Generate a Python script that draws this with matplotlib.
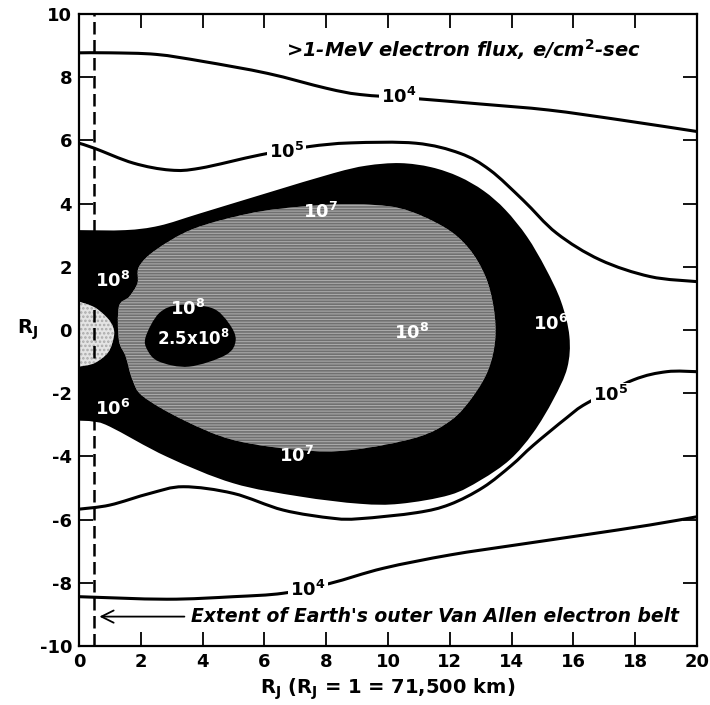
import matplotlib
matplotlib.use("Agg")
import matplotlib.pyplot as plt
from matplotlib.patches import PathPatch
from matplotlib.path import Path

plt.rcParams['font.family'] = ['DejaVu Sans']
plt.rcParams['mathtext.fontset'] = 'custom'
plt.rcParams['mathtext.rm'] = 'DejaVu Sans:bold'
plt.rcParams['mathtext.it'] = 'DejaVu Sans:bold'
plt.rcParams['mathtext.bf'] = 'DejaVu Sans:bold'
plt.rcParams['hatch.linewidth'] = 1.2

# ---------------- data ----------------
x_ticks = [0, 2, 4, 6, 8, 10, 12, 14, 16, 18, 20]
y_ticks = [-10, -8, -6, -4, -2, 0, 2, 4, 6, 8, 10]

# 1e4 contour, upper branch
c4_up_x = [0, 1, 2.5, 4, 6.1, 8, 9.1, 10.8, 13, 15.2, 17.5, 20]
c4_up_y = [8.77, 8.77, 8.72, 8.5, 8.12, 7.65, 7.45, 7.33, 7.15, 6.96, 6.65, 6.28]
# 1e5 contour, upper branch
c5_up_x = [0, 0.5, 1.76, 2.95, 3.92, 5.86, 7.42, 8.8, 10.9, 12.33, 13.3, 14.37, 15.46, 16.86, 18.48, 20]
c5_up_y = [5.91, 5.75, 5.28, 5.06, 5.12, 5.54, 5.8, 5.92, 5.91, 5.59, 5.06, 4.11, 3.06, 2.22, 1.69, 1.53]
# 1e5 contour, lower branch
c5_lo_x = [0, 1.0, 2.3, 3.38, 4.99, 6.61, 8.23, 9.1, 10.93, 12.0, 13.08, 14.0, 14.7, 15.78, 16.43, 17.94, 19.02, 20]
c5_lo_y = [-5.67, -5.54, -5.17, -4.96, -5.17, -5.70, -5.96, -5.97, -5.78, -5.52, -4.98, -4.28, -3.65, -2.78, -2.32, -1.58, -1.32, -1.32]
# 1e4 contour, lower branch
c4_lo_x = [0, 2.84, 4.99, 6.61, 8.12, 9.85, 12.0, 14.16, 16.32, 18.48, 20]
c4_lo_y = [-8.44, -8.52, -8.44, -8.33, -8.02, -7.54, -7.12, -6.8, -6.49, -6.17, -5.91]

# 1e6 region (black), open boundary closed along x = 0
c6_x = [0, 1.5, 2.6, 3.92, 6.07, 8.23, 9.3, 10.39, 11.4, 12.3, 13.1, 13.8, 14.5, 15.1, 15.6, 15.87, 15.8,
        15.35, 14.7, 13.95, 13.0, 12.0, 10.39, 9.09, 7.15, 4.99, 2.84, 1.0, 0.46, 0]
c6_y = [3.16, 3.16, 3.3, 3.69, 4.33, 4.96, 5.2, 5.28, 5.15, 4.85, 4.4, 3.8, 2.95, 1.95, 0.9, -0.2, -1.2,
        -2.2, -3.25, -4.1, -4.75, -5.22, -5.5, -5.5, -5.27, -4.85, -4.01, -3.06, -2.90, -2.87]

# 1e7 region (grey), closed
c7_x = [1.29, 1.62, 1.89, 1.94, 2.48, 3.7, 5.53, 7.15, 8.8, 10.39, 11.79, 12.6, 13.15, 13.42, 13.47,
        13.25, 12.75, 12.05, 10.93, 8.8, 7.15, 4.99, 3.38, 2.08, 1.73, 1.51, 1.29]
c7_y = [0.74, 1.05, 1.48, 2.0, 2.53, 3.2, 3.69, 3.9, 3.98, 3.85, 3.27, 2.6, 1.7, 0.7, -0.3,
        -1.25, -2.1, -2.85, -3.4, -3.8, -3.8, -3.48, -2.85, -2.11, -1.58, -0.84, -0.32]

# inner region at the origin, closed along x = 0
core_x = [0, 0.5, 0.9, 1.1, 1.13, 0.95, 0.5, 0]
core_y = [0.9, 0.72, 0.4, 0.1, -0.2, -0.7, -1.05, -1.16]

# 2.5e8 region (black blob), closed
c25_x = [2.16, 2.59, 3.24, 4.31, 4.85, 5.07, 4.75, 3.56, 2.59, 2.21]
c25_y = [-0.21, 0.53, 0.79, 0.69, 0.21, -0.32, -0.79, -1.16, -1.0, -0.63]

earth_belt_x = 0.5


def smooth_path(xs, ys, closed=False, close_straight=False):
    """Bezier path passing through the given points (Catmull-Rom style control points)."""
    pts = list(zip(xs, ys))
    n = len(pts)
    verts = [pts[0]]
    codes = [Path.MOVETO]
    segs = n if closed else n - 1
    for i in range(segs):
        if closed:
            p0, p1, p2, p3 = pts[(i - 1) % n], pts[i], pts[(i + 1) % n], pts[(i + 2) % n]
        else:
            p0 = pts[max(i - 1, 0)]
            p1 = pts[i]
            p2 = pts[i + 1]
            p3 = pts[min(i + 2, n - 1)]
        c1 = (p1[0] + (p2[0] - p0[0]) / 6.0, p1[1] + (p2[1] - p0[1]) / 6.0)
        c2 = (p2[0] - (p3[0] - p1[0]) / 6.0, p2[1] - (p3[1] - p1[1]) / 6.0)
        verts += [c1, c2, p2]
        codes += [Path.CURVE4] * 3
    if closed or close_straight:
        verts.append(pts[0])
        codes.append(Path.CLOSEPOLY)
    return Path(verts, codes)


# ---------------- figure ----------------
fig = plt.figure(figsize=(7.1, 7.05), dpi=100)
ax = fig.add_axes([0.1113, 0.0837, 0.8704, 0.8965])
ax.set_xlim(0, 20)
ax.set_ylim(-10, 10)

ax.add_patch(PathPatch(smooth_path(c6_x, c6_y, close_straight=True), facecolor='black',
                       edgecolor='none', zorder=1))
ax.add_patch(PathPatch(smooth_path(c7_x, c7_y, closed=True), facecolor='#aaaaaa', edgecolor='#707070',
                       hatch='------', linewidth=0, zorder=2))
ax.add_patch(PathPatch(smooth_path(core_x, core_y, close_straight=True), facecolor='#e4e4e4',
                       edgecolor='#aaaaaa', hatch='....', linewidth=0, zorder=2))
ax.add_patch(PathPatch(smooth_path(c25_x, c25_y, closed=True), facecolor='black', edgecolor='none', zorder=3))

lw = 2.2
for xs, ys in [(c4_up_x, c4_up_y), (c5_up_x, c5_up_y), (c5_lo_x, c5_lo_y), (c4_lo_x, c4_lo_y)]:
    ax.add_patch(PathPatch(smooth_path(xs, ys), facecolor='none', edgecolor='black', lw=lw,
                           zorder=3, capstyle='butt'))

ax.axvline(earth_belt_x, color='black', lw=1.8, linestyle=(0, (5, 2.2)), zorder=4)

# contour labels
lab_kw = dict(ha='center', va='center', fontsize=13, fontweight='bold', zorder=6)
box = dict(facecolor='white', edgecolor='none', pad=1.5)
ax.text(10.35, 7.37, '10$^4$', bbox=box, **lab_kw)
ax.text(6.72, 5.62, '10$^5$', bbox=box, **lab_kw)
ax.text(17.2, -2.05, '10$^5$', bbox=box, **lab_kw)
ax.text(7.4, -8.22, '10$^4$', bbox=box, **lab_kw)
ax.text(1.08, 1.55, '10$^8$', color='white', **lab_kw)
ax.text(1.1, -2.5, '10$^6$', color='white', **lab_kw)
ax.text(7.8, 3.75, '10$^7$', color='white', **lab_kw)
ax.text(7.05, -4.0, '10$^7$', color='white', **lab_kw)
ax.text(3.5, 0.68, '10$^8$', color='white', **lab_kw)
ax.text(3.69, -0.28, '2.5x10$^8$', color='white', **dict(lab_kw, fontsize=12))
ax.text(10.75, -0.1, '10$^8$', color='white', **lab_kw)
ax.text(15.25, 0.2, '10$^6$', color='white', **lab_kw)

ax.text(12.45, 8.86, '>1-MeV electron flux, e/cm$^2$-sec', ha='center', va='center',
        fontsize=14, fontweight='bold', style='italic', zorder=6)
ax.text(3.62, -9.08, "Extent of Earth's outer Van Allen electron belt", ha='left', va='center',
        fontsize=13.5, fontweight='bold', style='italic', zorder=6)
ax.annotate('', xy=(0.57, -9.07), xytext=(3.5, -9.07),
            arrowprops=dict(arrowstyle='->', lw=1.3, color='black', mutation_scale=22), zorder=6)

ax.set_xticks(x_ticks)
ax.set_yticks(y_ticks)
ax.set_xticklabels([str(v) for v in x_ticks], fontsize=13, fontweight='bold')
ax.set_yticklabels([str(v) for v in y_ticks], fontsize=13, fontweight='bold')
ax.tick_params(direction='in', length=10, width=1.3, top=True, right=True, pad=5)
for s in ax.spines.values():
    s.set_linewidth(1.6)

ax.set_xlabel('R$_J$ (R$_J$ = 1 = 71,500 km)', fontsize=14, fontweight='bold', labelpad=4)
ax.set_ylabel('R$_J$', fontsize=14, fontweight='bold', rotation=0, va='center', ha='center')
ax.yaxis.set_label_coords(-0.083, 0.5)

fig.savefig('out.png', dpi=100)
